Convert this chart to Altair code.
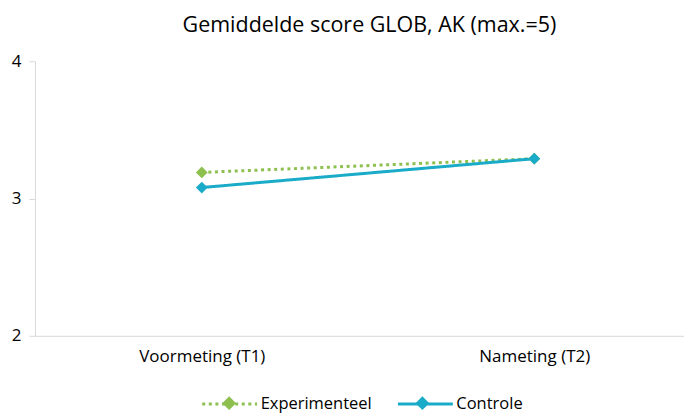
import altair as alt
import pandas as pd

periods = ["Voormeting (T1)", "Nameting (T2)"]
series = ["Experimenteel", "Controle"]
experimenteel = [3.19, 3.29]
controle = [3.08, 3.29]
colors = ["#8DC04F", "#1AABC8"]

rows = []
for s, vals in zip(series, [experimenteel, controle]):
    for p, v in zip(periods, vals):
        rows.append({"periode": p, "groep": s, "groep_m": s, "score": v})
df = pd.DataFrame(rows)

FONT = "Open Sans"
AXIS_COLOR = "#D9D9D9"

x = alt.X("periode:N", sort=periods, title=None,
          scale=alt.Scale(type="point", padding=0.476, align=0.527),
          axis=alt.Axis(labelAngle=0, ticks=False, labelPadding=13, domainColor=AXIS_COLOR,
                        labelFontSize=17, labelColor="#000000", labelFont=FONT))
y = alt.Y("score:Q", title=None,
          scale=alt.Scale(domain=[2, 4], nice=False, zero=False),
          axis=alt.Axis(values=[2, 3, 4], labelExpr="format(datum.value, 'd')",
                        labelOverlap=False, grid=False, tickSize=6, tickColor=AXIS_COLOR,
                        domainColor=AXIS_COLOR, labelFontSize=17, labelColor="#000000",
                        labelFont=FONT, labelPadding=8))

cscale = alt.Scale(domain=series, range=colors)
common = dict(title=None, orient="none", direction="horizontal",
              legendX=166, legendY=314, symbolSize=3025,
              labelFontSize=16.5, labelFont=FONT, labelColor="#000000",
              labelOffset=2)
line_legend = alt.Legend(symbolType="M-1,0L1,0", symbolStrokeWidth=3,
                         columnPadding=19, **common)
marker_legend = alt.Legend(symbolType="M-0.25,0L0,-0.25L0.25,0L0,0.25Z",
                           labelExpr="''", columnPadding=134.5, **common)

lines = alt.Chart(df).mark_line(strokeWidth=3).encode(
    x=x, y=y,
    color=alt.Color("groep:N", sort=series, scale=cscale, legend=line_legend),
    strokeDash=alt.StrokeDash("groep:N", sort=series,
                              scale=alt.Scale(domain=series, range=[[3, 3.6], [1, 0]]),
                              legend=line_legend),
)
points = alt.Chart(df).mark_point(shape="diamond", filled=True, size=140, opacity=1).encode(
    x=x, y=y,
    fill=alt.Fill("groep_m:N", sort=series, scale=cscale, legend=marker_legend),
)

chart = alt.layer(lines, points).resolve_scale(fill="independent").properties(
    width=650, height=275,
    title=alt.Title("Gemiddelde score GLOB, AK (max.=5)", font=FONT, fontSize=21.5,
                    fontWeight="normal", color="#000000", offset=16, dx=10),
    autosize=alt.AutoSizeParams(type="none"),
    padding={"left": 27, "top": 53, "right": 0, "bottom": 78},
).configure_view(stroke=None)

chart.save("out.html", embed_options={"renderer": "svg", "actions": False})
